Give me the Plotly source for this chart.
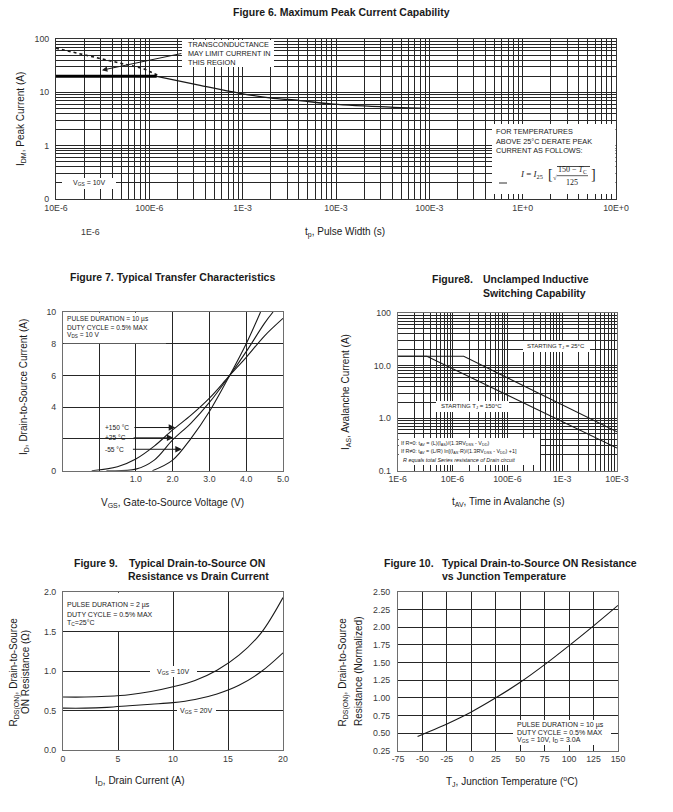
import math
import plotly.graph_objects as go

W, H = 673, 812
SANS = "Liberation Sans, Arial, Helvetica, sans-serif"
SERIF = "Liberation Serif, Times New Roman, serif"
INK = "#1a1a1a"
GRID = "#262626"
TICKC = "#3a3a3a"

# ---------------- data ----------------
# Figure 6 - Maximum peak current capability
f6_flat_t = [1e-5, 1.2e-4]
f6_flat_i = [20, 20]
f6_dot_t = [1e-5, 3e-5, 8.6e-5, 1.3e-4]
f6_dot_i = [67, 43.5, 28, 20]
f6_t = [1.2e-4, 3.5e-4, 9.4e-4, 1.95e-3, 4.1e-3, 9.3e-3, 4.1e-2, 9.5e-2]
f6_i = [20, 13.5, 9.6, 7.9, 7.0, 6.0, 5.24, 5.0]
f6_xticks = [1e-5, 1e-4, 1e-3, 1e-2, 1e-1, 1, 10]
f6_xlabels = ["10E-6", "100E-6", "1E-3", "10E-3", "100E-3", "1E+0", "10E+0"]
f6_yticks = [0.1, 1, 10, 100]
f6_ylabels = ["0", "1", "10", "100"]

# Figure 7 - Typical transfer characteristics
f7_v150 = [-0.2, 0.5, 1.0, 1.5, 2.0, 2.5, 3.0, 3.55, 4.0, 4.5, 5.0]
f7_i150 = [0.0, 0.25, 0.74, 1.55, 2.57, 3.5, 4.57, 6.0, 7.14, 8.5, 9.6]
f7_v25 = [0.2, 1.0, 1.5, 2.0, 2.5, 3.0, 3.55, 4.0, 4.5, 4.73]
f7_i25 = [0.0, 0.1, 0.67, 1.94, 3.0, 4.3, 6.0, 7.5, 9.3, 10.0]
f7_vm55 = [1.45, 2.0, 2.5, 3.0, 3.55, 4.0, 4.39]
f7_im55 = [0.0, 0.67, 2.04, 3.73, 6.0, 8.0, 10.0]
f7_xticks = [0, 1, 2, 3, 4, 5]
f7_xlabels = ["", "1.0", "2.0", "3.0", "4.0", "5.0"]
f7_yticks = [0, 2, 4, 6, 8, 10]
f7_ylabels = ["0", "", "4", "6", "8", "10"]

# Figure 8 - Unclamped inductive switching capability
f8_t25 = [1e-6, 1.6e-5, 1e-2]
f8_i25 = [15, 15, 0.55]
f8_t150 = [1e-6, 3.4e-6, 1e-2]
f8_i150 = [15, 15, 0.27]
f8_xticks = [1e-6, 1e-5, 1e-4, 1e-3, 1e-2]
f8_xlabels = ["1E-6", "10E-6", "100E-6", "1E-3", "10E-3"]
f8_yticks = [0.1, 1, 10, 100]
f8_ylabels = ["0.1", "1.0", "10.0", "100"]

# Figure 9 - RDS(on) vs drain current
f9_id = [0, 2, 4, 6, 8, 10, 12, 14, 16, 18, 20]
f9_r10 = [0.67, 0.67, 0.68, 0.70, 0.74, 0.80, 0.88, 1.01, 1.20, 1.48, 1.93]
f9_r20 = [0.53, 0.53, 0.54, 0.56, 0.58, 0.60, 0.64, 0.71, 0.82, 0.99, 1.23]
f9_xticks = [0, 5, 10, 15, 20]
f9_yticks = [0.0, 0.5, 1.0, 1.5, 2.0]

# Figure 10 - RDS(on) vs junction temperature
f10_tj = [-55, -50, -25, 0, 25, 50, 75, 100, 125, 150]
f10_r = [0.45, 0.48, 0.63, 0.80, 1.00, 1.22, 1.47, 1.74, 2.02, 2.31]
f10_xticks = [-75, -50, -25, 0, 25, 50, 75, 100, 125, 150]
f10_yticks = [0.25, 0.50, 0.75, 1.00, 1.25, 1.50, 1.75, 2.00, 2.25, 2.50]


# ---------------- helpers ----------------
def dom_x(a, b):
    return [a / W, b / W]


def dom_y(top, bottom):
    return [1 - bottom / H, 1 - top / H]


def log_ticks(lo, hi, majors, labels):
    vals, text = [], []
    for e in range(lo, hi + 1):
        for m in range(1, 10):
            if e == hi and m > 1:
                break
            v = m * 10.0 ** e
            vals.append(v)
            lab = ""
            for mv, ml in zip(majors, labels):
                if math.isclose(v, mv, rel_tol=1e-9):
                    lab = ml
            text.append(lab)
    return vals, text


def xaxis(domain, anchor, **kw):
    d = dict(domain=domain, anchor=anchor, showline=True, mirror=True,
             linecolor="#6e6e6e", linewidth=1, showgrid=True, gridcolor=GRID,
             gridwidth=1, zeroline=False, ticks="", automargin=False,
             tickfont=dict(family=SANS, size=8.8, color=TICKC))
    d.update(kw)
    return d


def yaxis(domain, anchor, **kw):
    d = xaxis(domain, anchor)
    d.update(ticks="outside", ticklen=4, tickcolor="rgba(0,0,0,0)")
    d.update(kw)
    return d


ann = []
shapes = []


def txt(x, y, s, size=7, anchor="left", bold=False, color=INK, angle=0, family=SANS):
    if bold:
        s = "<b>" + s + "</b>"
    ann.append(dict(xref="paper", yref="paper", x=x / W, y=1 - y / H, text=s,
                    showarrow=False, xanchor=anchor, yanchor="middle",
                    font=dict(family=family, size=size, color=color),
                    textangle=angle))


def white(x0, y0, x1, y1):
    shapes.append(dict(type="rect", xref="paper", yref="paper",
                       x0=x0 / W, x1=x1 / W, y0=1 - y1 / H, y1=1 - y0 / H,
                       fillcolor="white", line=dict(width=0), layer="above"))


def hline(x0, x1, y, width=0.8):
    shapes.append(dict(type="line", xref="paper", yref="paper",
                       x0=x0 / W, x1=x1 / W, y0=1 - y / H, y1=1 - y / H,
                       line=dict(color=INK, width=width), layer="above"))


fig = go.Figure()

# ---------------- Figure 6 ----------------
fig.add_trace(go.Scatter(x=f6_dot_t, y=f6_dot_i, mode="lines", xaxis="x", yaxis="y",
                         line=dict(color=INK, width=1.6, dash="dot"), showlegend=False))
fig.add_trace(go.Scatter(x=f6_t, y=f6_i, mode="lines", xaxis="x", yaxis="y", line_shape="spline",
                         line=dict(color=INK, width=1.3), showlegend=False))
fig.add_trace(go.Scatter(x=f6_flat_t, y=f6_flat_i, mode="lines", xaxis="x", yaxis="y",
                         line=dict(color="#000", width=3), showlegend=False))

x6v, x6t = log_ticks(-5, 1, f6_xticks, f6_xlabels)
y6v, y6t = log_ticks(-1, 2, f6_yticks, f6_ylabels)

# ---------------- Figure 7 ----------------
for vv, ii in [(f7_v150, f7_i150), (f7_v25, f7_i25), (f7_vm55, f7_im55)]:
    fig.add_trace(go.Scatter(x=vv, y=ii, mode="lines", xaxis="x2", yaxis="y2", line_shape="spline",
                             line=dict(color=INK, width=1.1), showlegend=False))

# ---------------- Figure 8 ----------------
for tt, ii in [(f8_t25, f8_i25), (f8_t150, f8_i150)]:
    fig.add_trace(go.Scatter(x=tt, y=ii, mode="lines", xaxis="x3", yaxis="y3",
                             line=dict(color=INK, width=1.1), showlegend=False))
x8v, x8t = log_ticks(-6, -2, f8_xticks, f8_xlabels)
y8v, y8t = log_ticks(-1, 2, f8_yticks, f8_ylabels)

# ---------------- Figure 9 ----------------
for rr in (f9_r10, f9_r20):
    fig.add_trace(go.Scatter(x=f9_id, y=rr, mode="lines", xaxis="x4", yaxis="y4", line_shape="spline",
                             line=dict(color=INK, width=1.1), showlegend=False))

# ---------------- Figure 10 ----------------
fig.add_trace(go.Scatter(x=f10_tj, y=f10_r, mode="lines", xaxis="x5", yaxis="y5", line_shape="spline",
                         line=dict(color=INK, width=1.1), showlegend=False))

LOGGW = 1.3
fig.update_layout(
    width=W, height=H, autosize=False, template="none",
    margin=dict(l=0, r=0, t=0, b=0), paper_bgcolor="white", plot_bgcolor="white",
    showlegend=False,
    xaxis=xaxis(dom_x(56, 616), "y", type="log", range=[-5, 1], tickvals=x6v, ticktext=x6t,
                gridwidth=LOGGW, linecolor="#333"),
    yaxis=yaxis(dom_y(39, 199), "x", type="log", range=[-1, 2], tickvals=y6v, ticktext=y6t,
                gridwidth=LOGGW, linecolor="#333"),
    xaxis2=xaxis(dom_x(63, 283), "y2", range=[-0.98, 5], tickvals=f7_xticks, ticktext=f7_xlabels,
                 zeroline=True, zerolinecolor=GRID, zerolinewidth=1),
    yaxis2=yaxis(dom_y(312, 470.7), "x2", range=[0, 10], tickvals=f7_yticks, ticktext=f7_ylabels),
    xaxis3=xaxis(dom_x(397.7, 617), "y3", type="log", range=[-6, -2], tickvals=x8v, ticktext=x8t,
                 gridwidth=LOGGW),
    yaxis3=yaxis(dom_y(313, 470.7), "x3", type="log", range=[-1, 2], tickvals=y8v, ticktext=y8t,
                 gridwidth=LOGGW),
    xaxis4=xaxis(dom_x(63, 283), "y4", range=[0, 20], tickvals=f9_xticks,
                 ticktext=[str(v) for v in f9_xticks]),
    yaxis4=yaxis(dom_y(592, 750), "x4", range=[0, 2], tickvals=f9_yticks,
                 ticktext=["%.1f" % v for v in f9_yticks]),
    xaxis5=xaxis(dom_x(398, 618), "y5", range=[-75, 150], tickvals=f10_xticks,
                 ticktext=[str(v) for v in f10_xticks]),
    yaxis5=yaxis(dom_y(592, 750.7), "x5", range=[0.25, 2.5], tickvals=f10_yticks,
                 ticktext=["%.2f" % v for v in f10_yticks], ticklen=5),
)

TS = 10.5   # title size
AS = 10     # axis title size

# ---------------- Figure 6 annotations ----------------
txt(341, 12, "Figure 6. Maximum Peak Current Capability", size=TS, anchor="center", bold=True)
txt(345, 232, "t<sub>p</sub>, Pulse Width (s)", size=AS, anchor="center")
txt(21, 119, "I<sub>DM</sub>, Peak Current (A)", size=AS, anchor="center", angle=-90)
txt(90, 232, "1E-6", size=8.8, anchor="center", color=TICKC)
white(182, 40, 274, 67)
txt(186, 45, "TRANSCONDUCTANCE", size=7.3)
txt(186, 54, "MAY LIMIT CURRENT IN", size=7.3)
txt(186, 62.5, "THIS REGION", size=7.3)
ann.append(dict(xref="x", yref="y", x=math.log10(3.1e-5), y=math.log10(26), text="",
                showarrow=True, arrowhead=2, arrowsize=1.1, arrowwidth=1, arrowcolor=INK,
                ax=81, ay=-17))
white(492, 124, 615.5, 194)
txt(494, 131, "FOR TEMPERATURES", size=7.3)
txt(494, 141, "ABOVE 25°C DERATE PEAK", size=7.3)
txt(494, 150.5, "CURRENT AS FOLLOWS:", size=7.3)
txt(531, 175, "<i>I</i> = <i>I</i><sub>25</sub>", size=9, anchor="center", family=SERIF)
txt(550, 175, "[", size=14, anchor="center", family=SERIF)
txt(555, 178, "√", size=7, anchor="center", family=SERIF)
hline(557, 590, 166.5)
txt(572, 169.5, "150 − <i>T</i><sub>C</sub>", size=8, anchor="center", family=SERIF)
hline(557, 588, 175.7, width=0.7)
txt(572, 182, "125", size=8, anchor="center", family=SERIF)
txt(593, 175, "]", size=14, anchor="center", family=SERIF)
hline(499, 507, 183, width=0.9)
white(62, 178, 116, 189)
txt(89, 183.5, "V<sub>GS</sub> = 10V", size=7, anchor="center")

# ---------------- Figure 7 annotations ----------------
txt(173, 277, "Figure 7. Typical Transfer Characteristics", size=TS, anchor="center", bold=True)
txt(173, 502.7, "V<sub>GS</sub>, Gate-to-Source Voltage (V)", size=AS, anchor="center")
txt(24, 387, "I<sub>D</sub>, Drain-to-Source Current (A)", size=AS, anchor="center", angle=-90)
white(63.7, 312.7, 166, 343.3)
txt(65, 319.5, "PULSE DURATION = 10 µs", size=6.6)
txt(65, 327.5, "DUTY CYCLE = 0.5% MAX", size=6.6)
txt(65, 335.5, "V<sub>DS</sub> = 10 V", size=6.6)
for lab, ly, hx, tx in [("+150 °C", 2.72, 2.07, 0.92), ("+25 °C", 2.07, 2.02, 0.9), ("-55 °C", 1.35, 2.25, 0.88)]:
    ann.append(dict(xref="x2", yref="y2", x=hx, y=ly, axref="x2", ayref="y2", ax=tx, ay=ly,
                    text="", showarrow=True, arrowhead=2, arrowsize=1.3, arrowwidth=1,
                    arrowcolor=INK))
txt(103, 427.7, "+150 °C", size=6.6)
txt(103, 438, "+25 °C", size=6.6)
txt(103, 449.3, "-55 °C", size=6.6)

# ---------------- Figure 8 annotations ----------------
txt(430, 279.3, "Figure8.", size=TS, bold=True)
txt(481, 279.3, "Unclamped Inductive", size=TS, bold=True)
txt(481, 293.3, "Switching Capability", size=TS, bold=True)
txt(508, 501.7, "t<sub>AV</sub>, Time in Avalanche (s)", size=AS, anchor="center")
txt(346, 392, "I<sub>AS</sub>, Avalanche Current (A)", size=AS, anchor="center", angle=-90)
white(523, 341, 590, 352)
txt(556, 346.5, "STARTING T<sub>J</sub> = 25°C", size=6, anchor="center")
white(436, 401, 509, 412)
txt(472, 406.5, "STARTING T<sub>J</sub> = 150°C", size=6, anchor="center")
white(398.7, 438, 540, 465)
txt(399, 443.5, "If R=0: t<sub>AV</sub> = (L)(I<sub>AS</sub>)/(1.3RV<sub>DSS</sub> - V<sub>DD</sub>)", size=5.4)
txt(399, 451.7, "If R≠0: t<sub>AV</sub> = (L/R) ln[(I<sub>AS</sub>·R)/(1.3RV<sub>DSS</sub> - V<sub>DD</sub>) +1]", size=5.4)
txt(401, 460, "<i>R equals total Series resistance of Drain circuit</i>", size=5.4)

# ---------------- Figure 9 annotations ----------------
txt(72, 562.7, "Figure 9.", size=TS, bold=True)
txt(127, 562.7, "Typical Drain-to-Source ON", size=TS, bold=True)
txt(126, 575.5, "Resistance vs Drain Current", size=TS, bold=True)
txt(140, 780.7, "I<sub>D</sub>, Drain Current (A)", size=AS, anchor="center")
txt(13.5, 672, "R<sub>DS(ON)</sub>, Drain-to-Source", size=AS, anchor="center", angle=-90)
txt(25, 672, "ON Resistance (Ω)", size=AS, anchor="center", angle=-90)
white(63.7, 592.7, 160, 631)
txt(65, 605, "PULSE DURATION = 2 µs", size=7)
txt(65, 614, "DUTY CYCLE = 0.5% MAX", size=7)
txt(65, 623, "T<sub>C</sub>=25°C", size=7)
white(150, 666, 197, 677)
txt(173.5, 671.5, "V<sub>GS</sub> = 10V", size=7, anchor="center")
white(177, 705, 216, 716)
txt(196.5, 710.5, "V<sub>GS</sub> = 20V", size=7, anchor="center")

# ---------------- Figure 10 annotations ----------------
txt(382, 562.7, "Figure 10.", size=TS, bold=True)
txt(440, 562.7, "Typical Drain-to-Source ON Resistance", size=TS, bold=True)
txt(440, 575.5, "vs Junction Temperature", size=TS, bold=True)
txt(512, 781.7, "T<sub>J</sub>, Junction Temperature (<sup>o</sup>C)", size=AS, anchor="center")
txt(342.5, 672, "R<sub>DS(ON)</sub>, Drain-to-Source", size=AS, anchor="center", angle=-90)
txt(358, 672, "Resistance (Normalized)", size=AS, anchor="center", angle=-90)
white(513, 720, 611, 745)
txt(515, 725, "PULSE DURATION = 10 µs", size=7)
txt(515, 732, "DUTY CYCLE = 0.5% MAX", size=7)
txt(515, 739.5, "V<sub>GS</sub> = 10V, I<sub>D</sub> = 3.0A", size=7)

fig.update_layout(annotations=ann, shapes=shapes)
fig.write_html("out.html", config={"displayModeBar": False},
               post_script="document.body.style.margin='0';document.body.style.padding='0';")
